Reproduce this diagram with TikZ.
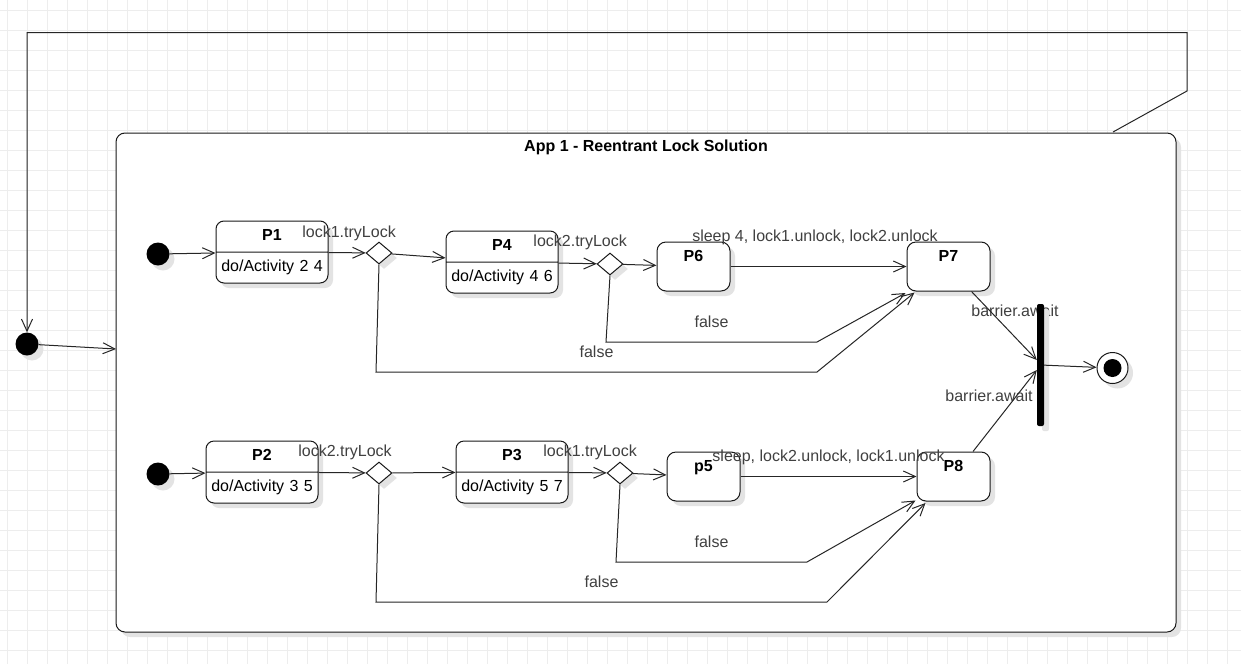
\documentclass[tikz,border=0pt]{standalone}
\usepackage{fontspec}
\setmainfont{Liberation Sans}
\usetikzlibrary{shapes.geometric, shapes.multipart, arrows.meta, positioning, shadows, calc}

\begin{document}
\begin{tikzpicture}[
    x=1pt, y=-1pt,
    font=\fontsize{16}{19}\selectfont,
    gridline/.style={draw=black!7, line width=1pt},
    softshadow/.style={drop shadow={shadow xshift=5pt, shadow yshift=-5pt, fill=black!11, opacity=1}},
    flow/.style={draw=black!85, line width=1pt, -{Straight Barb[length=12pt, width=11pt]}},
    container/.style={rectangle, draw=black!90, line width=1pt, fill=white, rounded corners=9pt, minimum width=1060pt, minimum height=499pt, softshadow},
    startdot/.style={circle, fill=black, minimum size=23pt, inner sep=0pt, softshadow},
    activity/.style={rectangle split, rectangle split parts=2, draw=black!90, line width=1pt, fill=white, rounded corners=8pt, text width=104pt, inner xsep=4pt, inner ysep=5.5pt, align=center, softshadow},
    plainstate/.style={rectangle, draw=black!90, line width=1pt, fill=white, rounded corners=9pt, minimum width=73pt, minimum height=49pt, softshadow, label={[anchor=north, inner sep=0pt, yshift=-9pt]north:\textbf{#1}}},
    choice/.style={diamond, draw=black!90, line width=1pt, fill=white, minimum width=26pt, minimum height=22pt, inner sep=0pt, softshadow},
    joinbar/.style={rectangle, fill=black, minimum width=7pt, minimum height=122pt, inner sep=0pt, rounded corners=2pt, softshadow},
    finalstate/.style={circle, draw=black!90, line width=1pt, fill=white, minimum size=31pt, inner sep=0pt, softshadow, path picture={\fill[black] (path picture bounding box.center) circle (9pt);}},
    lbl/.style={text=black!75, inner sep=1pt}
]
    \useasboundingbox (0,0) rectangle (1241,664);

    % background grid
    \foreach \gx in {7,27,...,1227} \draw[gridline] (\gx,0) -- (\gx,664);
    \foreach \gy in {10,30,...,650} \draw[gridline] (0,\gy) -- (1241,\gy);

    % composite state
    \node (app) [container] at (646,382.5) {};
    \node (title) [below=4pt] at (app.north) {\textbf{App 1 - Reentrant Lock Solution}};

    \node (start) [startdot] at (27,344) {};
    \coordinate (appin) at (116,349);
    \coordinate (loopout) at (1113,132);

    % upper lane
    \node (i1) [startdot] at (158,254) {};
    \node (p1) [activity] at (272,252) {\strut\textbf{P1}\nodepart{two}\strut do/Activity 2 4};
    \node (d1) [choice] at (379,253) {};
    \node (p4) [activity] at (502,262) {\strut\textbf{P4}\nodepart{two}\strut do/Activity 4 6};
    \node (d2) [choice] at (610,264) {};
    \node (p6) [plainstate=P6] at (693.5,266.5) {};
    \node (p7) [plainstate=P7, minimum width=83pt] at (948.5,266.5) {};

    % lower lane
    \node (i2) [startdot] at (158,474) {};
    \node (p2) [activity] at (262,472) {\strut\textbf{P2}\nodepart{two}\strut do/Activity 3 5};
    \node (d3) [choice] at (379,473) {};
    \node (p3) [activity] at (512,472) {\strut\textbf{P3}\nodepart{two}\strut do/Activity 5 7};
    \node (d4) [choice] at (620,473) {};
    \node (p5) [plainstate=p5] at (703.5,476.5) {};
    \node (p8) [plainstate=P8] at (953.5,476.5) {};

    % join and end
    \node (await7) [lbl] at (1015,311) {barrier.await};
    \node (await8) [lbl] at (989,396) {barrier.await};
    \node (bar) [joinbar] at (1040.5,365) {};
    \node (end) [finalstate] at (1112.5,368) {};

    % loop back to the start
    \draw[flow] (loopout) -- (1187,91) -- (1187,32.5) -- (27,32.5) -- (start);
    \draw[flow] (start) -- (appin);

    % upper transitions
    \draw[flow] (i1) -- (p1);
    \draw[flow] (p1) -- node[lbl, xshift=2pt, yshift=19.5pt] {lock1.tryLock} (d1);
    \draw[flow] (d1) -- (p4);
    \draw[flow] (p4) -- node[lbl, xshift=2.5pt, yshift=21pt] {lock2.tryLock} (d2);
    \draw[flow] (d2) -- (p6);
    \draw[flow] (p6) -- node[lbl, xshift=-3.5pt, yshift=29.5pt] {sleep 4, lock1.unlock, lock2.unlock} (p7);
    \draw[flow] (d2.south) -- (606,342) -- node[lbl, yshift=20pt] {false} (817,342) -- ($(p7.south west)+(-1,1.5)$);
    \draw[flow] (d1.south) -- (376,372) -- node[lbl, yshift=20pt] {false} (817,372) -- ($(p7.south west)+(8,1)$);

    % lower transitions
    \draw[flow] (i2) -- (p2);
    \draw[flow] (p2) -- node[lbl, xshift=3pt, yshift=20.5pt] {lock2.tryLock} (d3);
    \draw[flow] (d3) -- (p3);
    \draw[flow] (p3) -- node[lbl, xshift=2.5pt, yshift=20.5pt] {lock1.tryLock} (d4);
    \draw[flow] (d4) -- (p5);
    \draw[flow] (p5) -- node[lbl, yshift=19.5pt] {sleep, lock2.unlock, lock1.unlock} (p8);
    \draw[flow] (d4.south) -- (616,562) -- node[lbl, yshift=20pt] {false} (807,562) -- ($(p8.south west)+(-1,-1)$);
    \draw[flow] (d3.south) -- (376,602) -- node[lbl, yshift=20pt] {false} (827,602) -- ($(p8.south west)+(9,1.5)$);

    % barrier
    \draw[flow] ($(p7.south)+(23,0)$) -- ($(bar.west)+(0,-5)$);
    \draw[flow] ($(p8.north)+(19.5,0)$) -- ($(bar.west)+(0,5)$);
    \draw[flow] (bar) -- (end);

\end{tikzpicture}
\end{document}
